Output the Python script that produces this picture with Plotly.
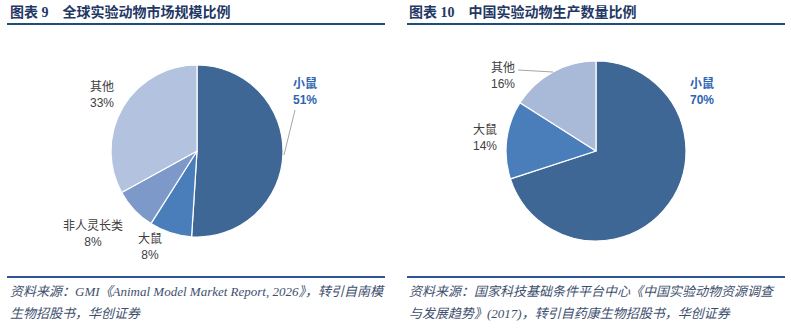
import plotly.graph_objects as go

W, H = 791, 329

# ---- data ----
left_labels = ["小鼠", "大鼠", "非人灵长类", "其他"]
left_values = [51, 8, 8, 33]
left_colors = ["#3F6796", "#4A7EBB", "#7D99C9", "#B3C3DF"]

right_labels = ["小鼠", "大鼠", "其他"]
right_values = [70, 14, 16]
right_colors = ["#3F6796", "#4A7EBB", "#A9B9D8"]

titles = ["图表 9　全球实验动物市场规模比例", "图表 10　中国实验动物生产数量比例"]
sources = [
    ["资料来源：GMI《Animal Model Market Report, 2026》，转引自南模",
     "生物招股书，华创证券"],
    ["资料来源：国家科技基础条件平台中心《中国实验动物资源调查",
     "与发展趋势》(2017)，转引自药康生物招股书，华创证券"],
]


def px(x):
    return x / W


def py(y):
    return 1 - y / H


fig = go.Figure()


def add_pie(labels, values, colors, cx, cy, r):
    fig.add_trace(go.Pie(
        labels=labels, values=values, sort=False, direction="clockwise",
        rotation=0, textinfo="none", hoverinfo="label+percent",
        marker=dict(colors=colors, line=dict(color="white", width=1.2)),
        domain=dict(x=[px(cx - r), px(cx + r)], y=[py(cy + r), py(cy - r)]),
        showlegend=False,
    ))


add_pie(left_labels, left_values, left_colors, 197, 151, 86)
add_pie(right_labels, right_values, right_colors, 596, 151, 90)

FONT = "Liberation Sans, Noto Sans CJK SC, sans-serif"
annots = []


def label(text, val, x, y, hl=False):
    if hl:
        t = f"<b>{text}</b><br><b>{val}%</b>"
        col = "#2E64B2"
    else:
        t = f"{text}<br>{val}%"
        col = "#404040"
    annots.append(dict(x=px(x), y=py(y), xref="paper", yref="paper", text=t,
                       showarrow=False, xanchor="center", yanchor="middle",
                       align="center", font=dict(family=FONT, size=12, color=col)))


lv = dict(zip(left_labels, left_values))
rv = dict(zip(right_labels, right_values))
label("小鼠", lv["小鼠"], 305, 92, True)
label("其他", lv["其他"], 102, 95)
label("非人灵长类", lv["非人灵长类"], 93, 234)
label("大鼠", lv["大鼠"], 150, 247)
label("小鼠", rv["小鼠"], 702, 91, True)
label("其他", rv["其他"], 503, 76)
label("大鼠", rv["大鼠"], 485, 138)

# titles
for i, t in enumerate(titles):
    x0 = 8 if i == 0 else 407
    annots.append(dict(x=px(x0), y=py(12), xref="paper", yref="paper", text=f"<b>{t}</b>",
                       showarrow=False, xanchor="left", yanchor="middle",
                       font=dict(family="Liberation Serif, Noto Sans CJK SC", size=14, color="#1F3864")))
    for j, line in enumerate(sources[i]):
        annots.append(dict(x=px(x0), y=py(291 + 22 * j), xref="paper", yref="paper",
                           text=f"<i>{line}</i>", showarrow=False, xanchor="left", yanchor="middle",
                           font=dict(family="Liberation Serif, Noto Sans CJK SC", size=13, color="#3E4F6E")))

shapes = []
for x0, x1 in [(7, 385), (407, 785)]:
    shapes.append(dict(type="line", xref="paper", yref="paper", x0=px(x0), x1=px(x1),
                       y0=py(24), y1=py(24), line=dict(color="#1F4E79", width=2)))
    shapes.append(dict(type="line", xref="paper", yref="paper", x0=px(x0), x1=px(x1),
                       y0=py(277), y1=py(277), line=dict(color="#2F5597", width=2)))
# leader lines
shapes.append(dict(type="line", xref="paper", yref="paper", x0=px(284), x1=px(295),
                   y0=py(155), y1=py(110), line=dict(color="#A6A6A6", width=1)))
shapes.append(dict(type="line", xref="paper", yref="paper", x0=px(518), x1=px(553),
                   y0=py(70), y1=py(72), line=dict(color="#A6A6A6", width=1)))

fig.update_layout(width=W, height=H, margin=dict(l=0, r=0, t=0, b=0),
                  paper_bgcolor="white", plot_bgcolor="white",
                  annotations=annots, shapes=shapes)

fig.write_html("out.html")
